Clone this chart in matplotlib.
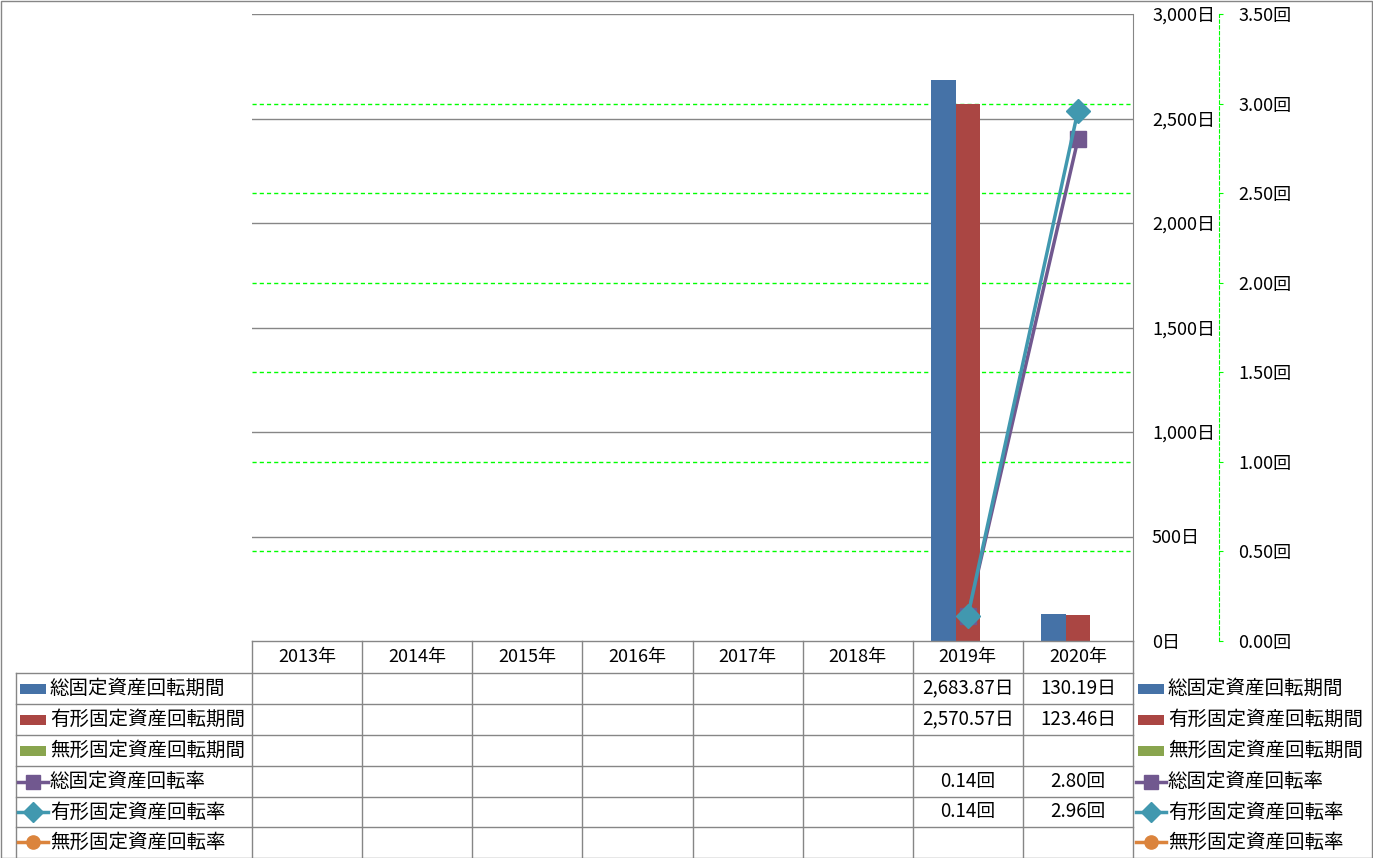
import numpy as np
import matplotlib
matplotlib.use('Agg')
import matplotlib.pyplot as plt
from matplotlib.lines import Line2D
from matplotlib.patches import Rectangle
from matplotlib.ticker import FuncFormatter, MultipleLocator
from matplotlib import transforms

plt.rcParams['font.family'] = ['Noto Sans CJK JP', 'DejaVu Sans']

# ---------------- data ----------------
years = ['2013年', '2014年', '2015年', '2016年', '2017年', '2018年', '2019年', '2020年']
nan = np.nan
total_period = [nan, nan, nan, nan, nan, nan, 2683.87, 130.19]
tangible_period = [nan, nan, nan, nan, nan, nan, 2570.57, 123.46]
intangible_period = [nan, nan, nan, nan, nan, nan, nan, nan]
total_rate = [nan, nan, nan, nan, nan, nan, 0.14, 2.80]
tangible_rate = [nan, nan, nan, nan, nan, nan, 0.14, 2.96]
intangible_rate = [nan, nan, nan, nan, nan, nan, nan, nan]

period_names = ['総固定資産回転期間', '有形固定資産回転期間', '無形固定資産回転期間']
rate_names = ['総固定資産回転率', '有形固定資産回転率', '無形固定資産回転率']
periods = [total_period, tangible_period, intangible_period]
rates = [total_rate, tangible_rate, intangible_rate]

bar_colors = ['#4572A7', '#AA4643', '#89A54E']
line_colors = ['#71588F', '#4198AF', '#DB843D']
markers = ['s', 'D', 'o']
marker_sizes = [12, 12, 11]
key_marker_sizes = [9.5, 10, 9.5]

GRAY = '#868686'
GREEN = '#00FF00'
DASH = (0, (3, 2.2))
FS = 13
FS_LABEL = 14

W, H = 1373, 858
fig = plt.figure(figsize=(W / 100, H / 100), dpi=100)


def fx(px):
    return px / W


def fy(py):
    return 1 - py / H


rect = [fx(252), fy(641), fx(1133) - fx(252), fy(14) - fy(641)]

# secondary grid axes (bottom layer)
axg = fig.add_axes(rect, zorder=0)
axg.set_xlim(-0.5, len(years) - 0.5)
axg.set_ylim(0, 3.5)
axg.axis('off')

# primary (bars)
ax = fig.add_axes(rect, zorder=1)
ax.patch.set_visible(False)
n = len(years)
x = np.arange(n)
bw = 0.222
for k, (vals, c) in enumerate(zip(periods, bar_colors)):
    v = np.array(vals, float)
    m = ~np.isnan(v)
    if m.any():
        ax.bar(x[m] + (k - 1) * bw, v[m], width=bw, color=c, zorder=3, linewidth=0)
ax.set_xlim(-0.5, n - 0.5)
ax.set_ylim(0, 3000)
ax.yaxis.set_major_locator(MultipleLocator(500))
ax.yaxis.set_major_formatter(FuncFormatter(lambda v, p: f'{v:,.0f}日'))
ax.yaxis.tick_right()
ax.tick_params(axis='y', length=0, pad=13.7, labelsize=FS)
ax.set_xticks([])
for sp in ['left', 'top', 'bottom']:
    ax.spines[sp].set_visible(False)
ax.spines['right'].set_color(GRAY)
for t in ax.get_yticks():
    if 0 < t <= 3000:
        ax.axhline(t, color=GRAY, lw=1, zorder=1)

# secondary (lines)
ax2 = fig.add_axes(rect, zorder=2, sharex=ax)
ax2.patch.set_visible(False)
ax2.set_ylim(0, 3.5)
ax2.yaxis.set_major_locator(MultipleLocator(0.5))
ax2.yaxis.set_major_formatter(FuncFormatter(lambda v, p: f'{v:.2f}回'))
ax2.yaxis.tick_right()
ax2.tick_params(axis='y', direction='out', length=3, color=GREEN, pad=11, labelsize=FS)
ax2.tick_params(axis='x', bottom=False, labelbottom=False)
for sp in ['left', 'top', 'bottom']:
    ax2.spines[sp].set_visible(False)
ax2.spines['right'].set_position(('outward', 62))
ax2.spines['right'].set_color(GREEN)
ax2.spines['right'].set_linestyle(DASH)
for t in ax2.get_yticks():
    if 0 < t < 3.5:
        axg.axhline(t, color=GREEN, lw=1, ls=DASH)

for vals, c, mk, ms in zip(rates, line_colors, markers, marker_sizes):
    ax2.plot(x, vals, color=c, lw=2.5, marker=mk, ms=ms, mfc=c, mec=c,
             zorder=3, clip_on=False)

# ---------------- data table ----------------
tcol = transforms.blended_transform_factory(ax.transData, fig.transFigure)
tf = fig.transFigure


def hline(x0, x1, y):
    fig.add_artist(Line2D([fx(x0), fx(x1)], [fy(y), fy(y)], transform=tf, color=GRAY, lw=1))


row_edges = [673, 704, 735, 766, 797, 827]
row_centers = [688.5, 719.5, 750.5, 781.5, 812, 842]
hline(252, 1133, 641)
for y in row_edges:
    hline(16, 1133, y)
for i in range(n + 1):
    fig.add_artist(Line2D([i - 0.5, i - 0.5], [fy(641), fy(857)], transform=tcol, color=GRAY, lw=1))
fig.add_artist(Line2D([fx(16), fx(16)], [fy(673), fy(857)], transform=tf, color=GRAY, lw=1))

for i, yr in enumerate(years):
    fig.text(i, fy(657), yr, transform=tcol, ha='center', va='center', fontsize=FS)

all_vals = periods + rates
fmts = [lambda v: f'{v:,.2f}日'] * 3 + [lambda v: f'{v:.2f}回'] * 3
for r, (vals, f) in enumerate(zip(all_vals, fmts)):
    for i, v in enumerate(vals):
        if not np.isnan(v):
            fig.text(i, fy(row_centers[r]), f(v), transform=tcol, ha='center', va='center',
                     fontsize=FS + 0.5)


def draw_key(kind, idx, x0, yc):
    if kind == 'bar':
        fig.add_artist(Rectangle((fx(x0), fy(yc + 5)), fx(26), 10 / H, transform=tf,
                                 color=bar_colors[idx], lw=0))
    else:
        c = line_colors[idx]
        fig.add_artist(Line2D([fx(x0 - 2), fx(x0 + 28)], [fy(yc), fy(yc)], transform=tf,
                              color=c, lw=2.5))
        fig.add_artist(Line2D([fx(x0 + 13)], [fy(yc)], transform=tf, color=c, marker=markers[idx],
                              ms=key_marker_sizes[idx], mfc=c, mec=c, lw=0))


labels = period_names + rate_names
kinds = ['bar'] * 3 + ['line'] * 3
idxs = [0, 1, 2, 0, 1, 2]
for r in range(6):
    yc = row_centers[r]
    draw_key(kinds[r], idxs[r], 20, yc)
    fig.text(fx(50), fy(yc), labels[r], ha='left', va='center', fontsize=FS_LABEL)
    # right legend
    draw_key(kinds[r], idxs[r], 1138, yc)
    fig.text(fx(1168), fy(yc), labels[r], ha='left', va='center', fontsize=FS_LABEL)

# outer frame
fig.add_artist(Rectangle((0.5 / W, 0.5 / H), 1 - 1.5 / W, 1 - 1.5 / H, transform=tf,
                         fill=False, edgecolor=GRAY, lw=1))

fig.savefig('out.png', dpi=100)
